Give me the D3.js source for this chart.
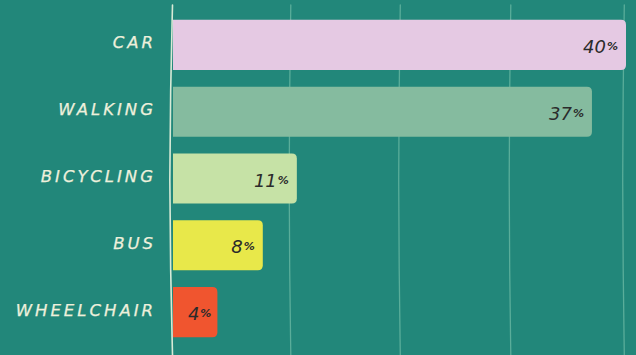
<!DOCTYPE html>
<html>
<head>
<meta charset="utf-8">
<script src="https://cdn.jsdelivr.net/npm/d3@7"></script>
<style>
  html, body { margin: 0; padding: 0; background: #22877a; }
  svg { display: block; }
</style>
</head>
<body>
<svg id="chart" width="636" height="355"></svg>
<script>
// Share of trips by mode of travel
const categories = ["CAR", "WALKING", "BICYCLING", "BUS", "WHEELCHAIR"];
const shares = [40, 37, 11, 8, 4];
const barColors = ["#e5c9e3", "#85bb9f", "#c6e2a6", "#e8e84a", "#f0552f"];
const gridTicks = [0, 10, 20, 30, 40];

const width = 636, height = 355;
const svg = d3.select("#chart");

svg.append("rect")
  .attr("width", width).attr("height", height)
  .attr("fill", "#22877a");

const x = d3.scaleLinear().domain([0, 40]).range([172, 626]);
const y = d3.scaleBand().domain(categories).range([11.5, 345.5]).paddingInner(0.25).paddingOuter(0.125);

// slightly wavering pen strokes for the grid
const wobble = [0.5, -1.5, -2.5, -1.5, 0.5];
const drift = { 0: 0, 10: 5, 20: 1, 30: -2, 40: -2 };
const gridLine = d3.line().curve(d3.curveBasis);

svg.append("g").selectAll("path")
  .data(gridTicks)
  .join("path")
  .attr("d", t => {
    const x0 = x(t) + drift[t];
    const ys = [5, 90, 180, 270, 355];
    return gridLine(ys.map((yy, i) => [x0 + wobble[i] * (t === 0 ? 1 : 0.6), yy]));
  })
  .attr("fill", "none")
  .attr("stroke", t => t === 0 ? "#d8ead6" : "#5aad9a")
  .attr("stroke-width", t => t === 0 ? 1.6 : 1.3)
  .attr("stroke-linecap", "round");

const rows = categories.map((c, i) => ({ cat: c, v: shares[i], color: barColors[i] }));

// bars
svg.append("g").selectAll("path")
  .data(rows)
  .join("path")
  .attr("d", d => {
    const x0 = x(0) + 1, x1 = x(d.v), y0 = y(d.cat), y1 = y0 + y.bandwidth();
    const r = Math.min(5, (x1 - x0) / 4);
    const p = d3.path();
    p.moveTo(x0, y0);
    p.lineTo(x1 - r, y0);
    p.quadraticCurveTo(x1, y0, x1, y0 + r);
    p.lineTo(x1, y1 - r);
    p.quadraticCurveTo(x1, y1, x1 - r, y1);
    p.lineTo(x0, y1);
    p.closePath();
    return p.toString();
  })
  .attr("fill", d => d.color);

// category labels
svg.append("g").selectAll("text")
  .data(rows)
  .join("text")
  .attr("x", 156)
  .attr("y", d => y(d.cat) + y.bandwidth() / 2 - 2)
  .attr("text-anchor", "end")
  .attr("dominant-baseline", "central")
  .attr("font-family", "'DejaVu Sans', sans-serif")
  .attr("font-style", "italic")
  .attr("font-size", 16.5)
  .attr("letter-spacing", 3)
  .attr("fill", "#eef0dc")
  .attr("stroke", "#eef0dc")
  .attr("stroke-width", 0.25)
  .text(d => d.cat);

// value labels inside the bar ends
const vl = svg.append("g").selectAll("text")
  .data(rows)
  .join("text")
  .attr("x", d => x(d.v) - (d.v < 6 ? 6 : 8))
  .attr("y", d => y(d.cat) + y.bandwidth() / 2 + 1)
  .attr("text-anchor", "end")
  .attr("dominant-baseline", "central")
  .attr("font-family", "'DejaVu Sans', sans-serif")
  .attr("font-style", "italic")
  .attr("font-size", 18)
  .attr("fill", "#2b2b2b");
vl.append("tspan").text(d => d.v);
vl.append("tspan").attr("font-size", 11).attr("font-weight", 700).attr("dx", 1).text("%");
</script>
</body>
</html>
